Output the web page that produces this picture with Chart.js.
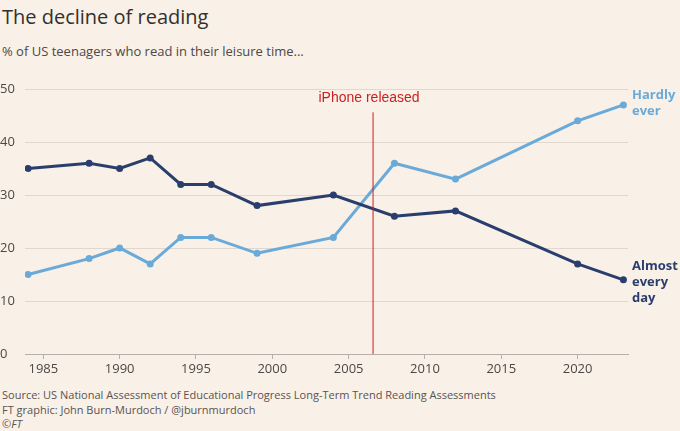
<!DOCTYPE html><html><head><meta charset="utf-8">
<script src="https://cdn.jsdelivr.net/npm/chart.js@4"></script>
<style>body{margin:0;background:#f9f0e7;font-family:"Open Sans",sans-serif;}
#w{position:relative;width:680px;height:431px;}
canvas{position:absolute;left:0;top:0}
.t{position:absolute;color:#33302e;white-space:nowrap}
</style></head><body><div id="w">
<div class="t" style="left:2px;top:3px;font-size:20px;">The decline of reading</div>
<div class="t" style="left:2px;top:42px;font-size:13px;color:#4d4845">% of US teenagers who read in their leisure time...</div>
<div class="t" style="left:2px;top:388px;font-size:11px;color:#5a5450;line-height:14.5px">Source: US National Assessment of Educational Progress Long-Term Trend Reading Assessments<br>FT graphic: John Burn-Murdoch / @jburnmurdoch<br><i>©FT</i></div>
<canvas id="c" width="680" height="431"></canvas></div>
<script>
const years=[1984,1988,1990,1992,1994,1996,1999,2004,2008,2012,2020,2023];
const almostEveryDay=[35,36,35,37,32,32,28,30,26,27,17,14];
const hardlyEver=[15,18,20,17,22,22,19,22,36,33,44,47];
const xTicks=[1985,1990,1995,2000,2005,2010,2015,2020];
const iphoneYear=2006.6;
const dark='#2a3e6e', light='#6aaad8';
const ann={id:'ann',afterDatasetsDraw(ch){const c=ch.ctx,x=ch.scales.x,y=ch.scales.y;c.save();
 const px=x.getPixelForValue(iphoneYear);c.strokeStyle='#cc1f1f';c.lineWidth=1;c.beginPath();c.moveTo(px,y.getPixelForValue(45.6));c.lineTo(px,y.getPixelForValue(0));c.stroke();
 c.fillStyle='#cc1f1f';c.font='14px "Liberation Sans",Arial';c.textAlign='center';c.textBaseline='middle';c.fillText('iPhone released',px-4,y.getPixelForValue(48.2));
 c.textAlign='left';c.font='bold 13px "Open Sans"';c.fillStyle=light;c.fillText('Hardly',632,y.getPixelForValue(48.8));c.fillText('ever',632,y.getPixelForValue(45.8));
 c.fillStyle=dark;c.fillText('Almost',632,y.getPixelForValue(16.6));c.fillText('every',632,y.getPixelForValue(13.6));c.fillText('day',632,y.getPixelForValue(10.6));c.restore();}};
new Chart(document.getElementById('c'),{type:'line',data:{datasets:[
 {data:years.map((v,i)=>({x:v,y:almostEveryDay[i]})),borderColor:dark,backgroundColor:dark,borderWidth:3,pointRadius:2,tension:0},
 {data:years.map((v,i)=>({x:v,y:hardlyEver[i]})),borderColor:light,backgroundColor:light,borderWidth:3,pointRadius:2,tension:0}]},
options:{responsive:false,animation:false,layout:{padding:{left:0,right:52,top:89,bottom:45}},plugins:{legend:{display:false},tooltip:{enabled:false}},
scales:{x:{type:'linear',min:1983.8,max:2023.3,afterBuildTicks(s){s.ticks=xTicks.map(v=>({value:v}));},afterFit(s){s.height=32;},
 ticks:{color:'#4d4845',font:{size:13,family:'Open Sans'},padding:2,callback:v=>String(v)},grid:{drawOnChartArea:false,tickLength:5,color:'#b8b0a8'},border:{color:'#b8b0a8'}},
 y:{min:0,max:50,afterFit(s){s.width=25;},ticks:{stepSize:10,color:'#4d4845',font:{size:13,family:'Open Sans'},crossAlign:'far',padding:6},grid:{color:ctx=>ctx.tick.value===0?'#b8b0a8':'#e0d8d0',drawTicks:false},border:{display:false}}}},
plugins:[ann]});
</script></body></html>
